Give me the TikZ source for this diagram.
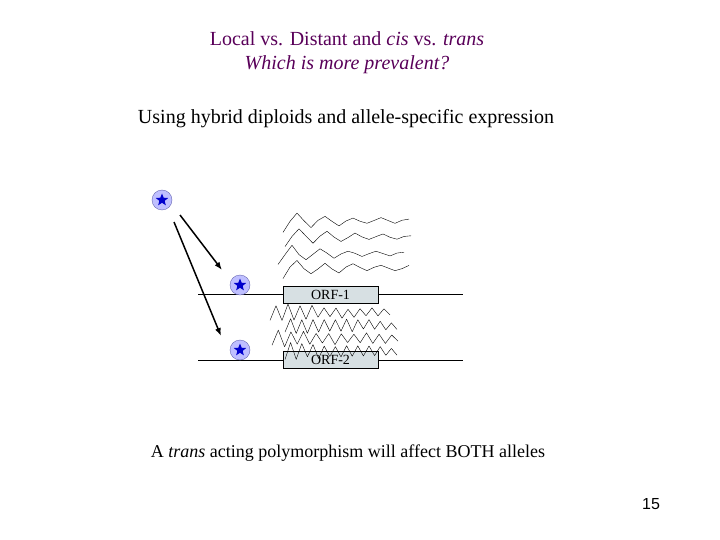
\documentclass[tikz,border=0pt]{standalone}
\usepackage{fontspec}
\setmainfont{Liberation Serif}
\setsansfont{Liberation Sans}
\usetikzlibrary{shapes.geometric,arrows.meta}
\begin{document}
\begin{tikzpicture}[x=1pt,y=-1pt,
  star/.style={circle,draw=blue!50!black!60,fill=blue!25,minimum size=20pt,inner sep=0pt},
  orf/.style={draw,fill=cyan!20!gray!30,minimum width=95pt,minimum height=17pt,inner sep=0pt,font=\fontsize{14}{14}\selectfont},
  arr/.style={-{Latex[length=8pt]},line width=1.5pt},
  txt/.style={font=\fontsize{20}{24}\selectfont}]
\useasboundingbox (0,0) rectangle (720,540);
\node[txt,text=violet!70!black,align=center] (t1) at (347,53) {Local vs. Distant and \textit{cis} vs. \textit{trans}\\\textit{Which is more prevalent?}};
\node[txt] (t2) at (346,119) {Using hybrid diploids and allele-specific expression};
\node[font=\fontsize{18}{20}\selectfont] (t3) at (348,453) {A \textit{trans} acting polymorphism will affect BOTH alleles};
\node[font=\fontsize{16}{16}\sffamily\selectfont] (pg) at (651,504) {15};
\draw (198,294) -- (463,294);
\draw (198,360) -- (463,360);
\node[orf] (o1) at (330.5,294.5) {ORF-1};
\node[orf] (o2) at (330.5,360) {ORF-2};
\foreach \n/\x/\y in {s1/162/200,s2/240/285,s3/240/350}{
  \node[star] (\n) at (\x,\y) {};
  \node[star,draw=none,fill=blue!80!black,shape=star,star points=5,minimum size=13pt,star point ratio=2.3] at (\x,\y) {};
}
\draw[arr] (180,215) -- (222,270);
\draw[arr] (174,222) -- (221,336);
\pgfmathsetseed{11}
\foreach \yy/\xx in {220/283,236/285,253/278,267/283}{
  \draw[line join=round] plot[variable=\t,domain=0:126,samples=19] ({\xx+\t},{\yy+(9*exp(-\t/45)+1.5)*cos(\t*12.857)+rnd*2});
}
\foreach \yy/\xx/\L in {311/270/120,324/285/112,337/272/126,350/285/112}{
  \pgfmathsetmacro\w{3600/\L}
  \draw[line join=round] plot[variable=\t,domain=0:\L,samples=21] ({\xx+\t},{\yy+(7*exp(-\t/120)+1)*cos(\t*\w)+rnd*3});
}
\end{tikzpicture}
\end{document}
